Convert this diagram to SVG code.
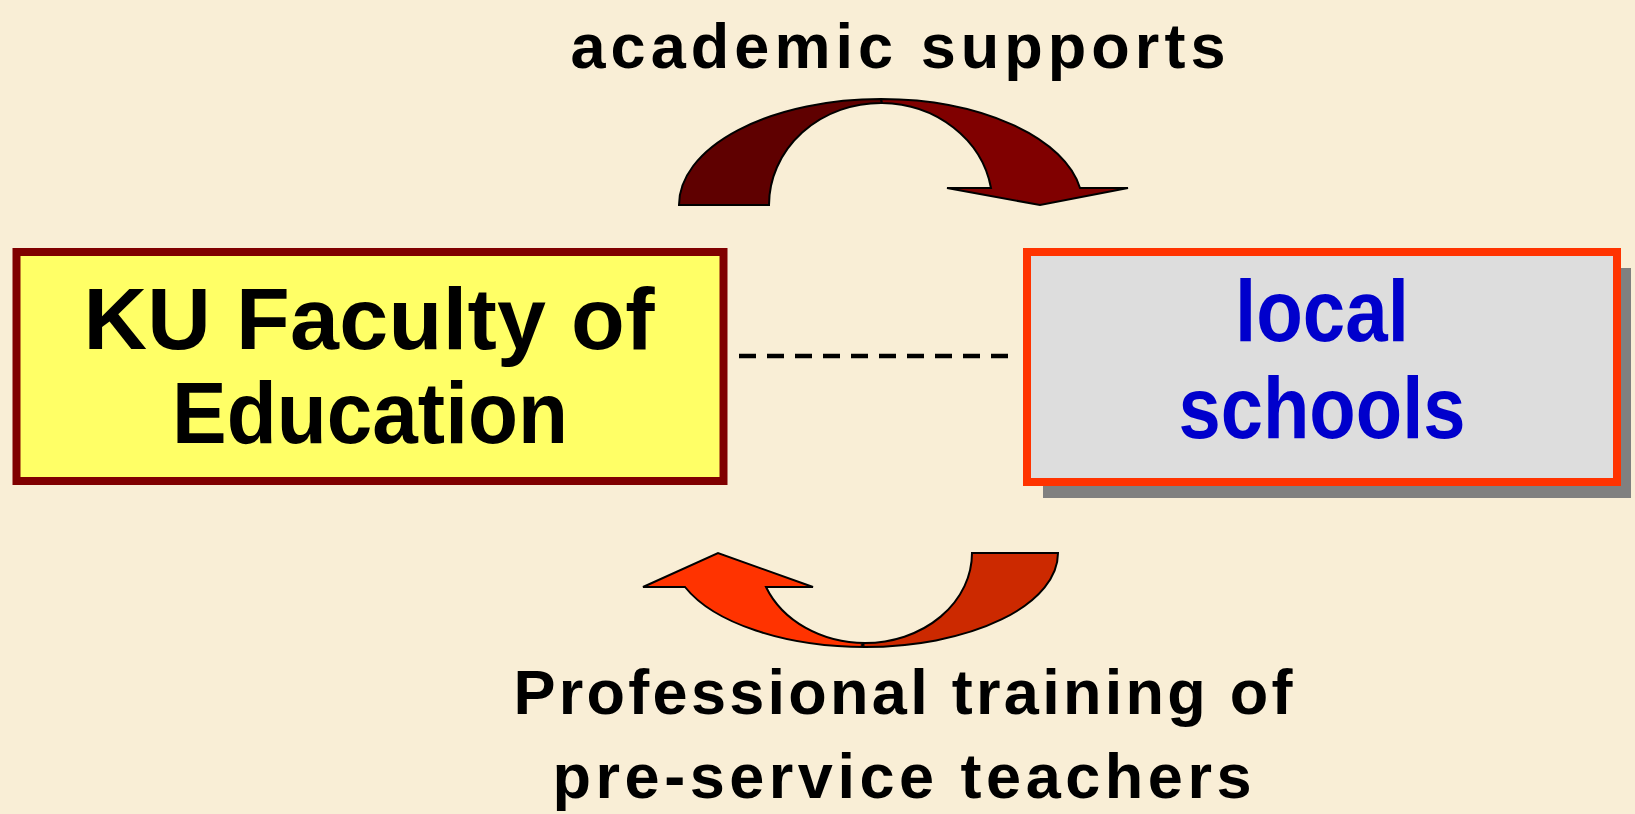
<svg xmlns="http://www.w3.org/2000/svg" width="1635" height="814" viewBox="0 0 1635 814">
<style>
  .t { font-family: "Comic Sans MS", "Liberation Sans", "DejaVu Sans", sans-serif; font-weight: bold; text-anchor: middle; }
  .box { font-size: 88px; }
  .lbl { font-size: 63px; fill: #000; }
  .arr { stroke: #000; stroke-width: 2; stroke-linejoin: miter; }
</style>
<rect x="0" y="0" width="1635" height="814" fill="#F9EED6"/>

<g id="connectors">
  <line x1="739" y1="356" x2="1008" y2="356" stroke="#000" stroke-width="4.5" stroke-dasharray="17,11"/>
  <g id="arrow-academic-supports">
    <path class="arr" fill="#5F0000" d="M 679,205 A 202,106 0 0 1 881,99 L 882,103 A 112,102 0 0 0 769,205 Z"/>
    <path class="arr" fill="#800000" d="M 881,99 A 202,106 0 0 1 1080,188 L 1128,188 L 1040,205 L 947,188 L 991,188 A 112,102 0 0 0 882,103 Z"/>
    <text class="t lbl" x="898" y="68" textLength="655">academic supports</text>
  </g>
  <g id="arrow-professional-training">
    <path class="arr" fill="#FF3300" d="M 865,647 A 193,94 0 0 1 685,587 L 643,587 L 718,553 L 813,587 L 766,587 A 107,90 0 0 0 865,643 Z"/>
    <path class="arr" fill="#CC2900" d="M 972,553 L 1058,553 A 193,94 0 0 1 865,647 L 862,645 L 865,643 A 107,90 0 0 0 972,553 Z"/>
    <text class="t lbl" x="903" y="714" textLength="779">Professional training of</text>
    <text class="t lbl" x="902" y="798" textLength="699">pre-service teachers</text>
  </g>
</g>

<g id="node-ku-faculty">
  <rect x="16.5" y="252" width="707" height="229" fill="#FFFF66" stroke="#800000" stroke-width="8"/>
  <text class="t box" x="369" y="349" fill="#000" textLength="571">KU Faculty of</text>
  <text class="t box" x="370" y="443" fill="#000" textLength="396" lengthAdjust="spacingAndGlyphs">Education</text>
</g>

<g id="node-local-schools">
  <rect x="1043" y="268" width="588" height="230" fill="#808080"/>
  <rect x="1027" y="252" width="590" height="230" fill="#DDDDDD" stroke="#FF3300" stroke-width="8"/>
  <text class="t box" x="1322" y="341" fill="#0000CC" textLength="174" lengthAdjust="spacingAndGlyphs">local</text>
  <text class="t box" x="1322" y="438" fill="#0000CC" textLength="287" lengthAdjust="spacingAndGlyphs">schools</text>
</g>
</svg>
